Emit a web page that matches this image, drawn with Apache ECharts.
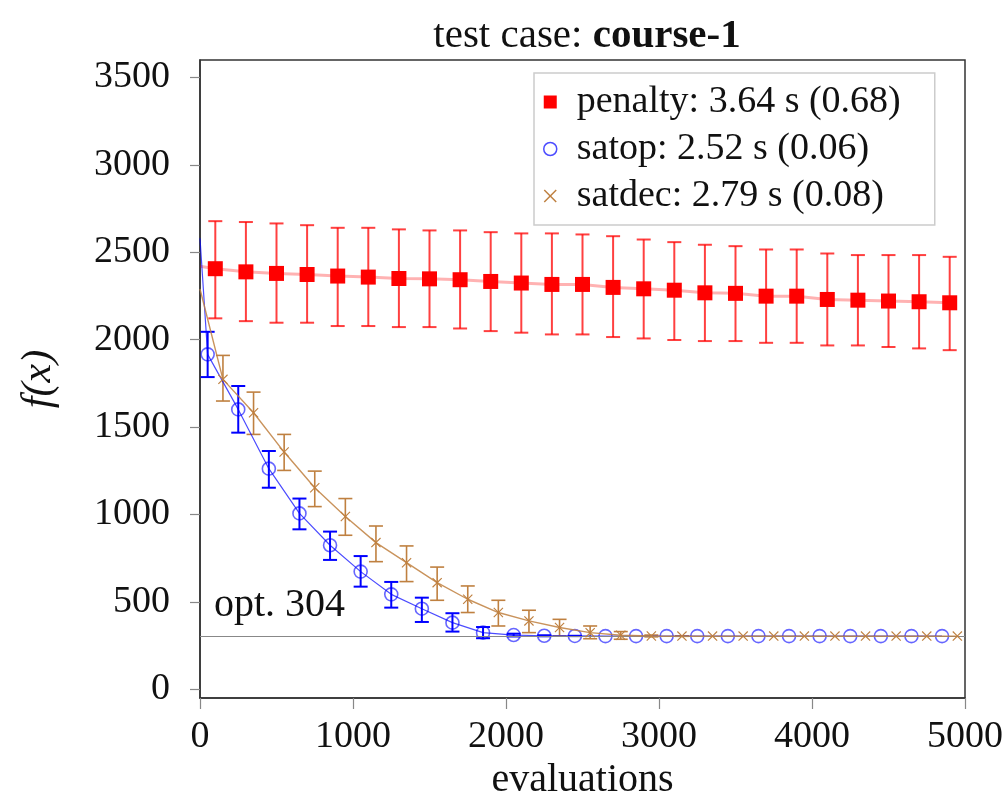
<!DOCTYPE html>
<html>
<head>
<meta charset="utf-8">
<script src="https://cdn.jsdelivr.net/npm/echarts@6/dist/echarts.min.js"></script>
<style>
  html, body { margin: 0; padding: 0; background: #fff; }
  #chart { width: 1008px; height: 793px; }
</style>
</head>
<body>
<div id="chart"></div>
<script>
// ─── data ───
const xTicks = [0, 1000, 2000, 3000, 4000, 5000];
const yTicks = [0, 500, 1000, 1500, 2000, 2500, 3000, 3500];
const optValue = 304;

const penaltyName = 'penalty: 3.64 s (0.68)';
const penaltyStart = 2420;
const penaltyX = [100, 300, 500, 700, 900, 1100, 1300, 1500, 1700, 1900, 2100, 2300, 2500, 2700, 2900, 3100, 3300, 3500, 3700, 3900, 4100, 4300, 4500, 4700, 4900];
const penaltyMean = [2406, 2388, 2379, 2373, 2364, 2358, 2350, 2348, 2343, 2333, 2324, 2316, 2316, 2299, 2291, 2283, 2268, 2265, 2249, 2249, 2230, 2226, 2221, 2217, 2211];
const penaltyHigh = [2678, 2673, 2665, 2655, 2640, 2640, 2631, 2625, 2625, 2615, 2608, 2608, 2602, 2592, 2573, 2558, 2543, 2535, 2516, 2516, 2493, 2484, 2484, 2484, 2474];
const penaltyLow = [2122, 2106, 2097, 2097, 2078, 2078, 2072, 2072, 2064, 2049, 2040, 2030, 2030, 2015, 2007, 1998, 1992, 1992, 1982, 1982, 1967, 1967, 1958, 1950, 1940];

const satopName = 'satop: 2.52 s (0.06)';
const satopStart = 2580;
const satopX = [50, 250, 450, 650, 850, 1050, 1250, 1450, 1650, 1850, 2050, 2250, 2450, 2650, 2850, 3050, 3250, 3450, 3650, 3850, 4050, 4250, 4450, 4650, 4850];
const satopMean = [1916, 1601, 1262, 1006, 824, 673, 543, 461, 381, 324, 310, 306, 305, 304, 304, 304, 304, 304, 304, 304, 304, 304, 304, 304, 304];
const satopHigh = [2045, 1735, 1363, 1091, 902, 762, 614, 524, 435, 356, 318, 309, 306, 304, 304, 304, 304, 304, 304, 304, 304, 304, 304, 304, 304];
const satopLow = [1786, 1468, 1153, 915, 740, 587, 467, 385, 330, 292, 302, 303, 304, 304, 304, 304, 304, 304, 304, 304, 304, 304, 304, 304, 304];

const satdecName = 'satdec: 2.79 s (0.08)';
const satdecStart = 2290;
const satdecX = [150, 350, 550, 750, 950, 1150, 1350, 1550, 1750, 1950, 2150, 2350, 2550, 2750, 2950, 3150, 3350, 3550, 3750, 3950, 4150, 4350, 4550, 4750, 4950];
const satdecMean = [1773, 1582, 1357, 1153, 988, 839, 724, 610, 515, 439, 391, 353, 324, 309, 305, 304, 304, 304, 304, 304, 304, 304, 304, 304, 304];
const satdecHigh = [1910, 1700, 1458, 1248, 1091, 934, 820, 699, 591, 509, 452, 400, 362, 330, 310, 305, 304, 304, 304, 304, 304, 304, 304, 304, 304];
const satdecLow = [1649, 1458, 1252, 1045, 881, 730, 616, 509, 439, 362, 324, 305, 289, 286, 300, 303, 304, 304, 304, 304, 304, 304, 304, 304, 304];

// ─── style ───
const FONT = "'Liberation Serif', 'DejaVu Serif', serif";
const TEXT = '#111';
const RED = '#ff0000';
const BLUE = '#0000ff';
const BROWN = '#bf8040';
const CROSS = 'path://M0,8L8,0L50,42L92,0L100,8L58,50L100,92L92,100L50,58L8,100L0,92L42,50Z';

function lineData(start, xs, ys) {
  return [{ value: [0, start], symbol: 'none' }].concat(xs.map((x, i) => [x, ys[i]]));
}

function barData(xs, lo, hi) {
  return xs.map((x, i) => [x, lo[i], hi[i]]);
}

// error bar: vertical stroke + two caps
function errorBars(color, width, cap) {
  return function (params, api) {
    const lo = api.value(1);
    const hi = api.value(2);
    if (hi - lo < 1) return null;
    const top = api.coord([api.value(0), hi]);
    const bot = api.coord([api.value(0), lo]);
    const style = { stroke: color, lineWidth: width };
    return {
      type: 'group',
      children: [
        { type: 'line', shape: { x1: top[0], y1: top[1], x2: bot[0], y2: bot[1] }, style },
        { type: 'line', shape: { x1: top[0] - cap, y1: top[1], x2: top[0] + cap, y2: top[1] }, style },
        { type: 'line', shape: { x1: bot[0] - cap, y1: bot[1], x2: bot[0] + cap, y2: bot[1] }, style },
      ],
    };
  };
}

const chart = echarts.init(document.getElementById('chart'), null, { renderer: 'canvas' });

chart.setOption({
  animation: false,
  backgroundColor: '#fff',
  textStyle: { fontFamily: FONT, color: TEXT },
  title: {
    text: '{n|test case: }{b|course-1}',
    left: 582,
    top: 11,
    textAlign: 'center',
    textStyle: {
      fontWeight: 'normal',
      rich: {
        n: { fontFamily: FONT, fontSize: 41, fontWeight: 'normal', color: TEXT },
        b: { fontFamily: FONT, fontSize: 41, fontWeight: 'bold', color: TEXT },
      },
    },
  },
  legend: {
    orient: 'vertical',
    left: 534,
    top: 73,
    padding: [10, 34, 10, 9],
    itemGap: 9,
    itemWidth: 13,
    itemHeight: 13,
    backgroundColor: '#fff',
    borderColor: '#cccccc',
    borderWidth: 1.5,
    selectedMode: false,
    textStyle: { fontFamily: FONT, fontSize: 38, color: TEXT, padding: [0, 0, 0, 15] },
    data: [
      { name: penaltyName, icon: 'rect', itemStyle: { color: RED } },
      { name: satopName, icon: 'circle', itemStyle: { color: 'rgba(0,0,0,0)', borderColor: 'rgba(0,0,255,0.7)', borderWidth: 1.5 } },
      { name: satdecName, icon: CROSS, itemStyle: { color: BROWN } },
    ],
  },
  grid: {
    left: 200, right: 43, top: 60, bottom: 95,
    outerBoundsMode: 'none',
    show: true, borderColor: '#333', borderWidth: 1.5,
  },
  xAxis: {
    type: 'value',
    min: 0,
    max: 5000,
    interval: 1000,
    name: 'evaluations',
    nameLocation: 'middle',
    nameGap: 55,
    nameTextStyle: { fontFamily: FONT, fontSize: 40, color: TEXT },
    axisLine: { show: true, onZero: false, lineStyle: { color: '#333', width: 1.5 } },
    axisTick: { show: true, inside: false, length: 11, customValues: xTicks, lineStyle: { color: '#888', width: 1.2 } },
    axisLabel: { fontFamily: FONT, fontSize: 38, color: TEXT, margin: 20, customValues: xTicks, formatter: (v) => String(v) },
    splitLine: { show: false },
  },
  yAxis: {
    type: 'value',
    min: -50,
    max: 3600,
    name: 'f(x)',
    nameLocation: 'middle',
    nameRotate: 90,
    nameGap: 140,
    nameTextStyle: { fontFamily: FONT, fontSize: 42, fontStyle: 'italic', color: TEXT },
    axisLine: { show: true, onZero: false, lineStyle: { color: '#333', width: 1.5 } },
    axisTick: { show: true, inside: false, length: 10, customValues: yTicks, lineStyle: { color: '#888', width: 1.2 } },
    axisLabel: { fontFamily: FONT, fontSize: 38, color: TEXT, margin: 30, customValues: yTicks, formatter: (v) => String(v) },
    splitLine: { show: false },
  },
  graphic: [
    { type: 'text', left: 214, top: 585, style: { text: 'opt. 304', font: `40px ${FONT}`, fill: TEXT } },
  ],
  series: [
    {
      name: 'penalty-err', type: 'custom', z: 2, clip: true,
      renderItem: errorBars('rgba(255,0,0,0.75)', 2, 7),
      data: barData(penaltyX, penaltyLow, penaltyHigh),
    },
    {
      name: 'satop-err', type: 'custom', z: 2, clip: true,
      renderItem: errorBars(BLUE, 2, 7),
      data: barData(satopX, satopLow, satopHigh),
    },
    {
      name: 'satdec-err', type: 'custom', z: 2, clip: true,
      renderItem: errorBars(BROWN, 1.6, 7),
      data: barData(satdecX, satdecLow, satdecHigh),
    },
    {
      name: penaltyName, type: 'line', z: 3,
      data: lineData(penaltyStart, penaltyX, penaltyMean),
      symbol: 'rect', symbolSize: 15,
      itemStyle: { color: RED },
      lineStyle: { color: 'rgba(255,0,0,0.3)', width: 3 },
      markLine: {
        silent: true, symbol: 'none', label: { show: false },
        lineStyle: { color: '#888', width: 1.2, type: 'solid' },
        data: [{ yAxis: optValue }],
      },
    },
    {
      name: satopName, type: 'line', z: 4,
      data: lineData(satopStart, satopX, satopMean),
      symbol: 'circle', symbolSize: 13,
      itemStyle: { color: 'rgba(0,0,0,0)', borderColor: 'rgba(0,0,255,0.6)', borderWidth: 1.6 },
      lineStyle: { color: 'rgba(0,0,255,0.7)', width: 1.2 },
    },
    {
      name: satdecName, type: 'line', z: 5,
      data: lineData(satdecStart, satdecX, satdecMean),
      symbol: CROSS, symbolSize: 10,
      itemStyle: { color: BROWN },
      lineStyle: { color: 'rgba(191,128,64,0.85)', width: 1.4 },
    },
  ],
});
</script>
</body>
</html>
